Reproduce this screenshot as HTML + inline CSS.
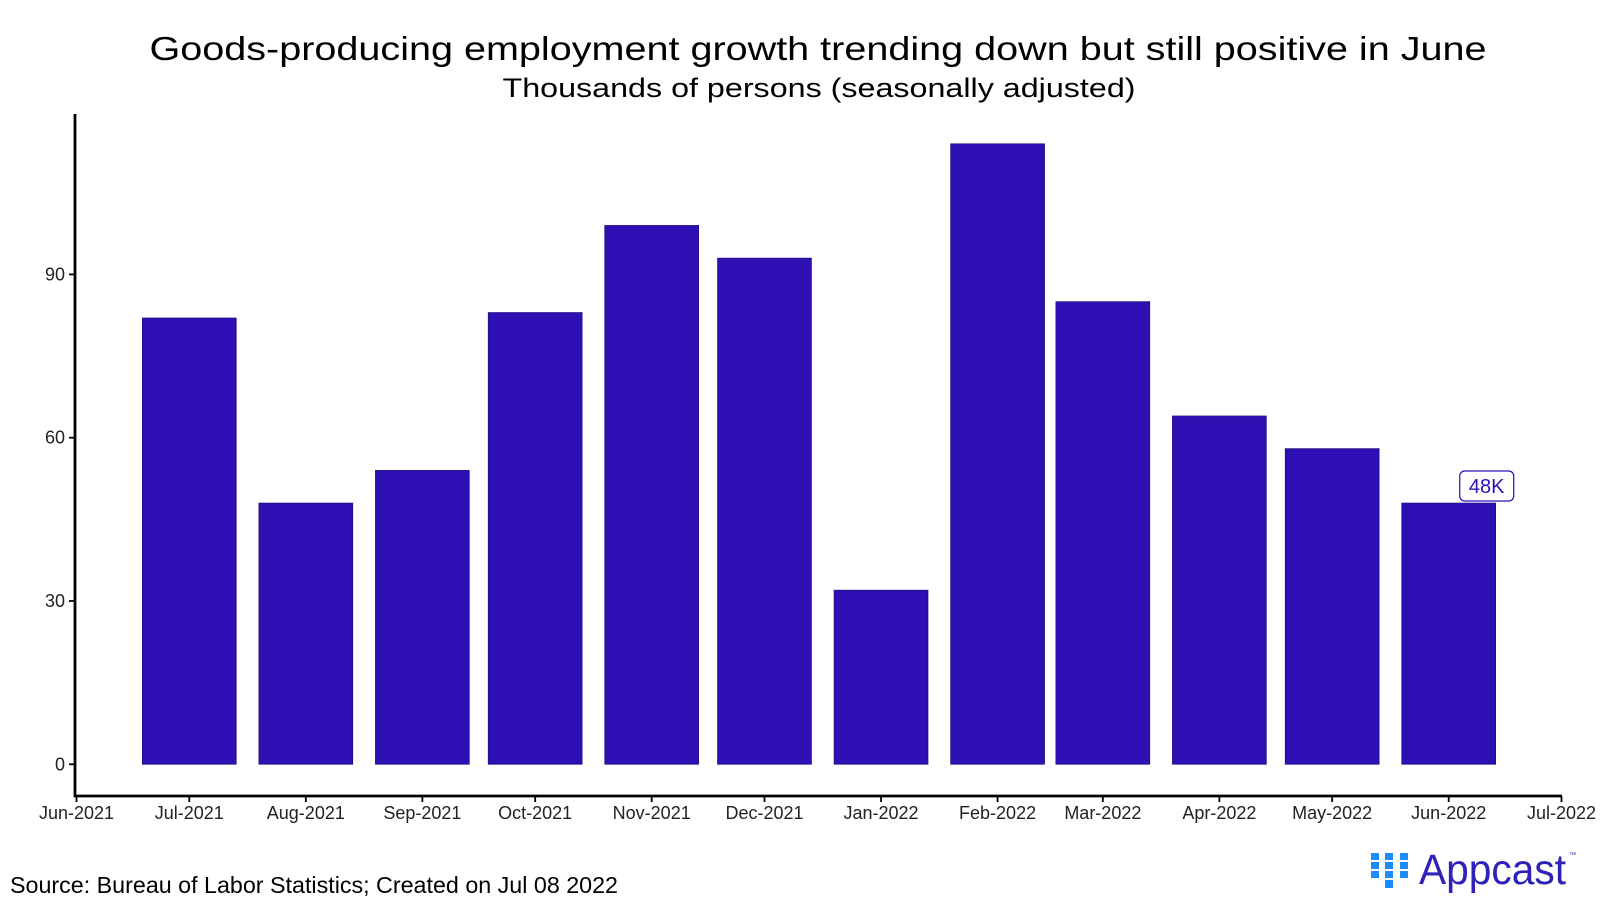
<!DOCTYPE html>
<html><head><meta charset="utf-8"><style>
body{margin:0;background:#fff;width:1600px;height:909px;overflow:hidden;font-family:"Liberation Sans",sans-serif}
</style></head><body>
<svg id="chart" width="1600" height="909" font-family="Liberation Sans, sans-serif">
<text x="818" y="60" text-anchor="middle" font-size="33" textLength="1337" lengthAdjust="spacingAndGlyphs" fill="#000">Goods-producing employment growth trending down but still positive in June</text>
<text x="819" y="97" text-anchor="middle" font-size="27" textLength="633" lengthAdjust="spacingAndGlyphs" fill="#000">Thousands of persons (seasonally adjusted)</text>
<g id="bars"></g>
<g id="axes"></g>
<text x="10" y="893" font-size="23" textLength="608" lengthAdjust="spacingAndGlyphs" fill="#000">Source: Bureau of Labor Statistics; Created on Jul 08 2022</text>
<g>
<g fill="#1a8cff">
<rect x="1371" y="853" width="8" height="7"/><rect x="1371" y="862" width="8" height="7"/><rect x="1371" y="871" width="8" height="7"/>
<rect x="1385" y="853" width="8" height="7"/><rect x="1385" y="862" width="8" height="7"/><rect x="1385" y="871" width="8" height="7"/><rect x="1385" y="880" width="8" height="8"/>
<rect x="1400" y="853" width="8" height="7"/><rect x="1400" y="862" width="8" height="7"/><rect x="1400" y="871" width="8" height="7"/>
</g>
<text x="1419" y="884" font-size="43" textLength="147" lengthAdjust="spacingAndGlyphs" fill="#2e22b8">Appcast</text>
<text x="1569" y="857" font-size="7" fill="#2e22b8">™</text>
</g>
</svg>
<script>
const categories=["2021-07-01","2021-08-01","2021-09-01","2021-10-01","2021-11-01","2021-12-01","2022-01-01","2022-02-01","2022-03-01","2022-04-01","2022-05-01","2022-06-01"];
const values=[82,48,54,83,99,93,32,114,85,64,58,48];
const yTicks=[0,30,60,90];
const xTickDates=["2021-06-01","2021-07-01","2021-08-01","2021-09-01","2021-10-01","2021-11-01","2021-12-01","2022-01-01","2022-02-01","2022-03-01","2022-04-01","2022-05-01","2022-06-01","2022-07-01"];
const xTickLabels=["Jun-2021","Jul-2021","Aug-2021","Sep-2021","Oct-2021","Nov-2021","Dec-2021","Jan-2022","Feb-2022","Mar-2022","Apr-2022","May-2022","Jun-2022","Jul-2022"];
const ns="http://www.w3.org/2000/svg";
const d0=Date.parse("2021-06-01"),d1=Date.parse("2022-07-01");
const X=d=>76.5+(Date.parse(d)-d0)/(d1-d0)*1485;
const Y=v=>764.3-v*(163.3/30);
const dayPx=1485/((d1-d0)/864e5);
const bw=25*dayPx;
function mk(t,a,p){const e=document.createElementNS(ns,t);for(const k in a)e.setAttribute(k,a[k]);p.appendChild(e);return e;}
const bars=document.getElementById('bars'),axes=document.getElementById('axes');
categories.forEach((c,i)=>{
 const r=mk('rect',{x:X(c)-bw/2,y:Y(values[i]),width:bw,height:Y(0)-Y(values[i]),fill:'#2e0fb3',stroke:'#1a0a70','stroke-width':0.6},bars);
 
 
});
const li=categories.length-1;
const lx=X(categories[li])+38,ly=Y(values[li])-17;
const lg=mk('g',{},bars);


mk('rect',{x:lx-27,y:ly-15,width:54,height:30,rx:5,fill:'#fff',stroke:'#2e0fb3','stroke-width':1.2},lg);
const lt=mk('text',{x:lx,y:ly+7,'text-anchor':'middle','font-size':20,fill:'#2e0fb3'},lg);
lt.textContent=values[li]+'K';
const ya=mk('line',{x1:75,y1:114,x2:75,y2:797,stroke:'#000','stroke-width':2.8},axes);


const xa=mk('line',{x1:74,y1:796,x2:1562,y2:796,stroke:'#000','stroke-width':2.8},axes);


yTicks.forEach(v=>{
 mk('line',{x1:69,y1:Y(v),x2:75,y2:Y(v),stroke:'#000','stroke-width':1.8},axes);
 const t=mk('text',{x:65,y:Y(v)+6,'text-anchor':'end','font-size':18,fill:'#222'},axes);
 t.textContent=v;
 
 
});
xTickDates.forEach((d,i)=>{
 mk('line',{x1:X(d),y1:796,x2:X(d),y2:802,stroke:'#000','stroke-width':1.8},axes);
 const t=mk('text',{x:X(d),y:819,'text-anchor':'middle','font-size':18,fill:'#222'},axes);
 t.textContent=xTickLabels[i];
 
 
});
</script>
</body></html>
